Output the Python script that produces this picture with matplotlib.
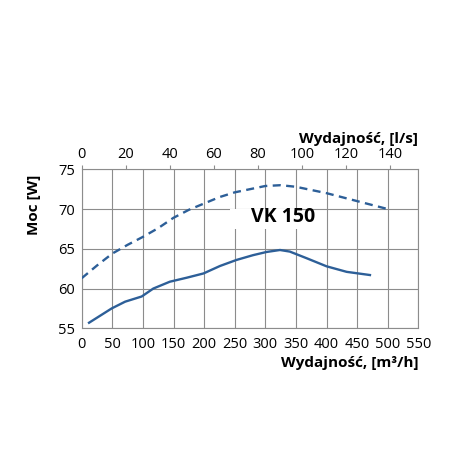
import numpy as np
import matplotlib.pyplot as plt
from matplotlib.patches import Rectangle

plt.rcParams['font.family'] = ['Open Sans', 'DejaVu Sans']

# flow [m3/h] and power [W]
flow_max = [0, 25, 50, 75, 100, 125, 150, 175, 200, 225, 250, 275, 300, 325, 350, 375, 400, 425, 450, 475, 500]
power_max = [61.3, 62.9, 64.4, 65.5, 66.5, 67.6, 68.9, 69.9, 70.7, 71.5, 72.1, 72.5, 72.9, 73.0, 72.8,
             72.4, 72.0, 71.5, 71.0, 70.5, 70.0]

flow_min = [12, 49, 71, 98, 117, 144, 172, 199, 226, 253, 280, 302, 324, 340, 368, 400, 433, 471]
power_min = [55.7, 57.5, 58.35, 59.0, 60.0, 60.86, 61.37, 61.9, 62.84, 63.6, 64.2, 64.6, 64.85, 64.65,
             63.8, 62.8, 62.1, 61.7]

x_ticks = np.arange(0, 551, 50)
y_ticks = [55, 60, 65, 70, 75]
ls_ticks = np.arange(0, 141, 20)

color = '#2d5f98'
grid_color = '#8c8c8c'

fig = plt.figure(figsize=(4.5, 4.5), dpi=100)
ax = fig.add_axes([81.7 / 450, 1 - 328.3 / 450, (418.3 - 81.7) / 450, (328.3 - 169.3) / 450])

ax.plot(flow_max, power_max, color=color, lw=1.7, ls=(0, (3.4, 2.3)), zorder=3)
ax.plot(flow_min, power_min, color=color, lw=1.7, zorder=3)

ax.set_xlim(0, 550)
ax.set_ylim(55, 75)
ax.set_xticks(x_ticks)
ax.set_yticks(y_ticks)
ax.grid(True, color=grid_color, lw=0.8)
ax.set_axisbelow(True)
for s in ax.spines.values():
    s.set_color(grid_color)
    s.set_linewidth(0.8)
ax.tick_params(length=0, labelsize=10.5, pad=6, colors='black')
ax.tick_params(axis='y', pad=5)

ax.set_xlabel('Wydajność, [m³/h]', fontsize=11, fontweight='bold', loc='right', labelpad=3)
ax.set_ylabel('Moc [W]', fontsize=11, fontweight='bold')
ax.yaxis.set_label_coords(-0.121, 0.775)

# white background behind the model name
ax.add_patch(Rectangle((243, 67.5), 114, 2.45, facecolor='white', edgecolor='none', zorder=1))
ax.text(329, 69.0, 'VK 150', fontsize=14, fontweight='bold', ha='center', va='center', zorder=4)

# top axis in l/s
top = ax.secondary_xaxis('top', functions=(lambda q: q / 3.6, lambda v: v * 3.6))
top.set_xticks(ls_ticks)
top.tick_params(length=3, width=0.8, color=grid_color, labelsize=10.5, pad=2)
top.spines['top'].set_visible(False)
top.set_xlabel('Wydajność, [l/s]', fontsize=11, fontweight='bold', loc='right', labelpad=3)

fig.savefig('out.png', dpi=100)
